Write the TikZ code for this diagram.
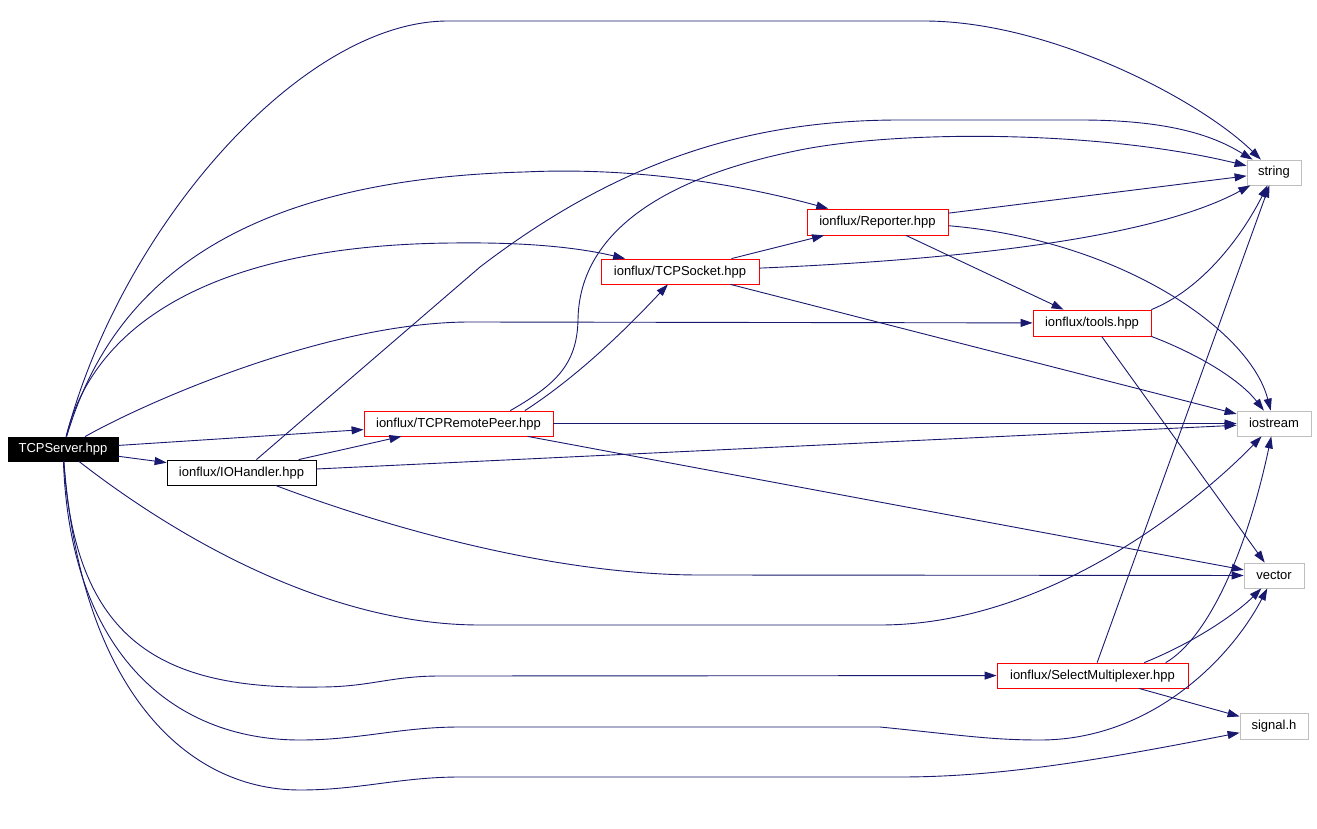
\documentclass[tikz,border=0pt]{standalone}
\usepackage{fontspec}
\setmainfont{Liberation Sans}
\usetikzlibrary{arrows.meta}
\definecolor{edgeblue}{RGB}{25,25,112}
\definecolor{sysgray}{RGB}{191,191,191}
\begin{document}
\begin{tikzpicture}[x=1pt,y=-1pt,
  box/.style={draw, rectangle, inner sep=0pt, line width=0.8pt, font=\fontsize{13}{15}\selectfont, text height=9.5pt, text depth=2.5pt, fill=white, minimum height=25pt},
  redbox/.style={box, draw=red},
  graybox/.style={box, draw=sysgray},
  blackbox/.style={box, draw=black},
  rootbox/.style={box, fill=black, text=white, draw=black},
  edge/.style={draw=edgeblue, line width=0.9pt, -{Triangle[length=12pt,width=8pt]}}
]
\fill[white] (0,0) rectangle (1317,829);
\useasboundingbox (0,0) rectangle (1317,829);

\node[rootbox, minimum width=110pt, minimum height=24pt] (srv) at (63,449) {TCPServer.hpp};
\node[blackbox, minimum width=149pt] (ioh) at (241.5,472.5) {ionflux/IOHandler.hpp};
\node[redbox, minimum width=189pt] (peer) at (458.5,423.5) {ionflux/TCPRemotePeer.hpp};
\node[redbox, minimum width=158pt] (sock) at (680,271.5) {ionflux/TCPSocket.hpp};
\node[redbox, minimum width=141pt, minimum height=26pt] (rep) at (877.5,222) {ionflux/Reporter.hpp};
\node[redbox, minimum width=118pt, minimum height=26pt] (tools) at (1092,323) {ionflux/tools.hpp};
\node[redbox, minimum width=191pt] (sel) at (1092.5,675.5) {ionflux/SelectMultiplexer.hpp};
\node[graybox, minimum width=54pt] (str) at (1274,172.5) {string};
\node[graybox, minimum width=74pt] (ios) at (1274,423.5) {iostream};
\node[graybox, minimum width=60pt] (vec) at (1274,575.5) {vector};
\node[graybox, minimum width=68pt, minimum height=26pt] (sig) at (1274,726) {signal.h};

% TCPServer.hpp
\draw[edge] (srv) .. controls (120,230) and (300,21) .. (448,21) -- (924,21) .. controls (1050,21) and (1200,100) .. (str);
\draw[edge] (srv) .. controls (110,290) and (230,180) .. (524,172) .. controls (650,166) and (760,190) .. (rep);
\draw[edge] (srv) .. controls (95,320) and (220,245) .. (452,243) .. controls (530,242) and (580,248) .. (sock);
\draw[edge] (srv) .. controls (150,400) and (330,322) .. (470,322) -- (tools);
\draw[edge] (srv) -- (peer);
\draw[edge] (srv) -- (ioh);
\draw[edge] (srv) .. controls (180,540) and (330,625) .. (480,625) -- (880,625) .. controls (1050,625) and (1200,500) .. (ios);
\draw[edge] (srv) .. controls (75,640) and (160,690) .. (320,687) .. controls (370,687) and (390,676) .. (440,676) -- (sel);
\draw[edge] (srv) .. controls (70,650) and (170,740) .. (300,740) .. controls (360,740) and (400,727) .. (460,727) -- (880,727) .. controls (960,735) and (990,740) .. (1040,740) .. controls (1150,740) and (1230,660) .. (vec);
\draw[edge] (srv) .. controls (80,680) and (180,790) .. (300,790) .. controls (360,790) and (400,777) .. (460,777) -- (900,777) .. controls (1000,777) and (1100,760) .. (sig);

% IOHandler.hpp
\draw[edge] (ioh) -- (peer);
\draw[edge] (ioh) -- (ios);
\draw[edge] (ioh) .. controls (380,525) and (550,575) .. (700,575) -- (vec);
\draw[edge] (ioh) -- (480,267) .. controls (620,160) and (750,120) .. (900,120) -- (1080,120) .. controls (1180,120) and (1220,140) .. (str);

% TCPRemotePeer.hpp
\draw[edge] (peer.11) .. controls (580,375) and (630,325) .. (sock);
\draw[edge] (peer.14) .. controls (555,385) and (577,365) .. (578,320) .. controls (579,240) and (650,180) .. (800,150) .. controls (900,130) and (1100,130) .. (str);
\draw[edge] (peer) -- (ios);
\draw[edge] (peer) -- (vec);

% TCPSocket.hpp
\draw[edge] (sock) -- (rep);
\draw[edge] (sock) .. controls (950,260) and (1150,240) .. (str);
\draw[edge] (sock) -- (ios);

% Reporter.hpp
\draw[edge] (rep) -- (str);
\draw[edge] (rep) -- (tools);
\draw[edge] (rep.357) .. controls (1120,240) and (1250,330) .. (ios);

% tools.hpp
\draw[edge] (tools.north east) .. controls (1200,290) and (1240,240) .. (str);
\draw[edge] (tools.south east) .. controls (1200,355) and (1240,380) .. (ios);
\draw[edge] (tools) -- (vec);

% SelectMultiplexer.hpp
\draw[edge] (sel) -- (str);
\draw[edge] (sel.10) .. controls (1205,640) and (1245,560) .. (ios);
\draw[edge] (sel.14) .. controls (1200,640) and (1240,610) .. (vec);
\draw[edge] (sel) -- (sig);
\end{tikzpicture}
\end{document}
